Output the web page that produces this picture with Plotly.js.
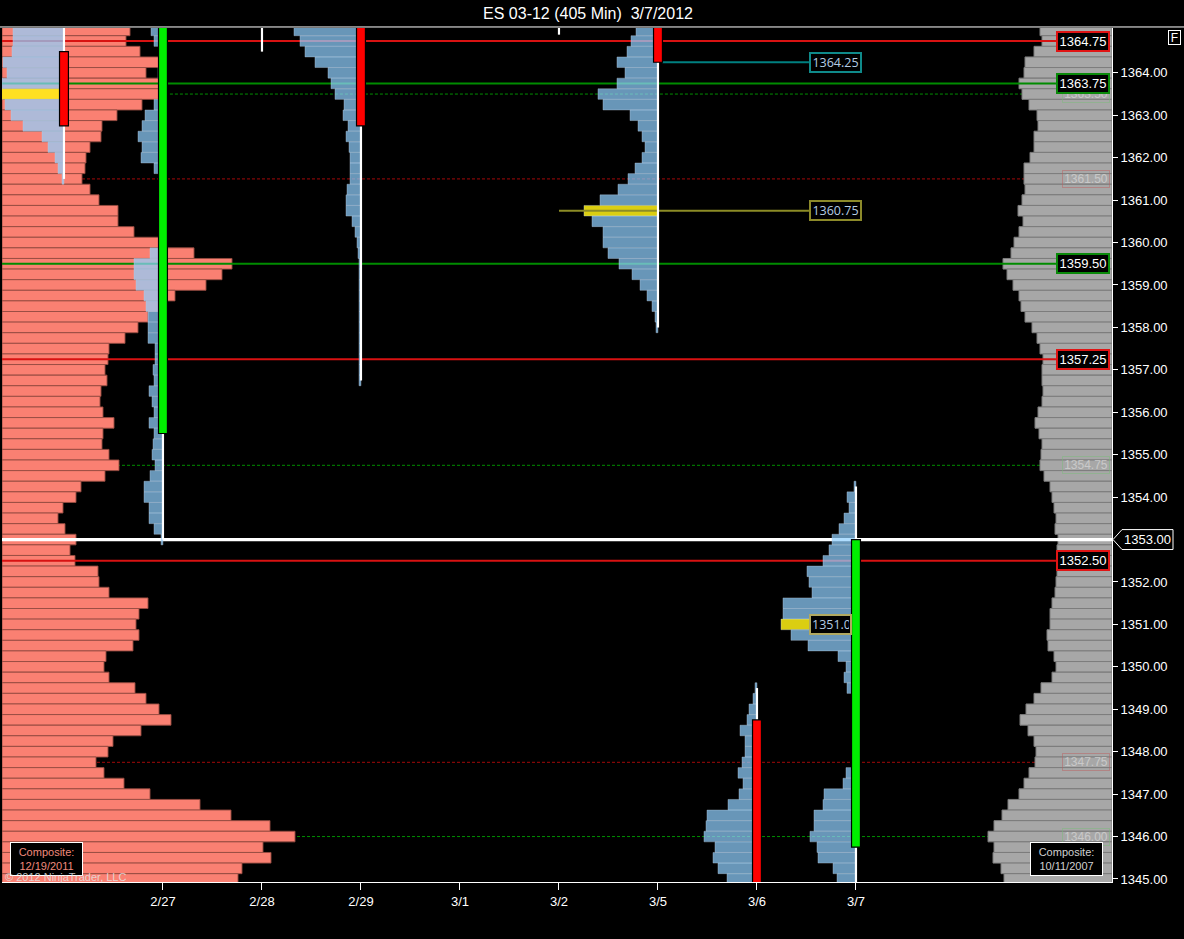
<!DOCTYPE html>
<html><head><meta charset="utf-8">
<script src="https://cdn.plot.ly/plotly-3.0.1.min.js"></script>
<style>html,body{margin:0;padding:0;background:#000;}#chart{width:1184px;height:939px;}</style>
</head><body><div id="chart"></div>
<script>
// ================= DATA =================
const dayLabels = ['2/27','2/28','2/29','3/1','3/2','3/5','3/6','3/7'];
const dayIndex  = [0,1,2,3,4,5,6,7];
const priceTicks = [1345,1346,1347,1348,1349,1350,1351,1352,1354,1355,1356,1357,1358,1359,1360,1361,1362,1363,1364];
const tickSize = 0.25;

// Composite profile 12/19/2011 (left, salmon) : volumes from 1365.00 down to 1345.00
const compLeftTop = 1365.00;
const compLeftVol = [128,124,138,157,144,157,157,140,115,100,
  99,88,84,83,80,88,97,116,116,132,
  158,192,230,220,204,173,160,146,136,123,
  107,106,103,105,99,98,101,112,101,100,
  107,117,103,79,74,61,56,63,74,68,
  73,96,97,107,146,137,134,137,131,104,
  102,107,133,144,157,169,139,111,106,94,
  102,122,148,198,229,268,293,261,269,240,236];

// Composite profile 10/11/2007 (right, gray) : volumes from 1365.00 down to 1345.00
const compRightTop = 1365.00;
const compRightVol = [72,70,78,87,88,93,90,83,75,74,
  78,78,82,88,88,87,90,94,89,93,
  98,101,109,105,99,93,91,87,80,75,
  72,69,70,70,69,70,74,77,73,70,
  71,72,68,62,60,58,56,57,54,55,
  55,55,56,57,60,62,62,65,64,58,
  56,60,71,78,86,92,84,78,76,77,
  83,88,93,104,110,118,124,118,119,111,108];

// Session profiles (volume per 0.25 level, from top price downward)
const prof0224Day = -1, prof0224Top = 1365.00, prof0224Poc = 1363.50;
const prof0224Vol = [51,51,52,61,57,62,70,59,53,41,22,16,9,6,2];

const prof0227Day = 0, prof0227Top = 1365.00;
const prof0227Vol = [12,9,2,3,5,3,3,9,18,21,
  25,21,22,9,1,1,1,1,1,1,
  2,13,29,29,27,19,17,15,15,15,
  8,8,10,9,14,11,9,14,9,10,
  11,8,13,19,19,14,14,9,2];

const prof0229Day = 2, prof0229Top = 1365.00;
const prof0229Vol = [67,61,56,46,33,30,26,17,18,13,
  15,12,11,11,11,14,15,15,9,6,
  4,3,2,2,2,2,2,2,2,2,2,2,2,2];

const prof0305Day = 5, prof0305Top = 1365.00, prof0305Poc = 1360.75;
const prof0305Vol = [22,27,31,41,33,41,60,55,28,20,
  16,13,16,23,30,40,58,74,66,55,
  55,50,39,26,18,11,6,3,2];

const prof0306Day = 6, prof0306Top = 1349.50;
const prof0306Vol = [2,4,8,10,17,12,12,15,19,14,18,29,50,51,53,42,44,39,30];

const prof0307Day = 7, prof0307Top = 1354.25, prof0307Poc = 1351.00;
const prof0307Vol = [2,9,7,12,17,24,27,33,49,47,
  44,73,73,75,65,48,18,10,12,9,
  2,3,3,2,4,4,3,10,13,32,
  33,42,42,46,39,38,23,19];

// Candles (session bars)
const candleDay   = [-1, 0, 1, 2, 4, 5, 6, 7];
const candleOpen  = [1364.50, 1355.50, 1365.75, 1365.25, 1365.50, 1365.25, 1348.75, 1345.75];
const candleHigh  = [1365.50, 1366.00, 1366.25, 1365.50, 1366.00, 1365.50, 1349.50, 1354.25];
const candleLow   = [1361.50, 1353.00, 1364.50, 1356.75, 1364.90, 1358.00, 1344.50, 1344.50];
const candleClose = [1362.75, 1365.25, 1365.50, 1362.75, 1365.25, 1364.25, 1344.75, 1353.00];

// Levels
const solidLevels = [1364.75, 1363.75, 1359.50, 1357.25, 1352.50];
const solidKinds  = ['red','green','green','red','red'];
const lastPrice = 1353.00;
const dottedLevels = [1363.50, 1361.50, 1354.75, 1347.75, 1346.00];
const dottedKinds  = ['green','red','green','red','green'];
const dottedStartDay = [0, null, null, null, null];
const nakedCloseLevel = 1364.25, nakedCloseDay = 5;
const nakedPocLevel = 1360.75, nakedPocFromDay = 4;

// ================= STYLE / GEOMETRY =================
const X_MIN = -1.626, X_MAX = 9.586;
const Y_MIN = 1344.929, Y_MAX = 1365.057;
const VOL_SCALE = 1/99;
const LABEL_X = 9.02;
const POC_LABEL_X = 6.525;
const BODY_W = 0.09, WICK_W = 0.022;
const LINE_T = 0.05, WHITE_T = 0.075;
const FONT = 'Liberation Sans, Arial, sans-serif';
const C = {
  salmon:'#fa8072', salmonLine:'rgba(150,75,65,0.9)',
  gray:'#a7a7a7', grayLine:'#7c7c7c',
  blue:'rgba(144,208,255,0.72)', blueLine:'rgba(190,210,230,0.45)',
  poc:'rgba(255,240,20,0.86)',
  red:'#d81212', green:'#008c00', white:'#ffffff',
  redDot:'rgba(170,10,10,0.95)', greenDot:'rgba(0,150,0,0.95)',
  teal:'#008080', olive:'#8c8c26'
};

function levels(top, n){ const a=[]; for(let i=0;i<n;i++) a.push(+(top - i*tickSize).toFixed(2)); return a; }

const traces = [];
// left composite
traces.push({type:'bar', orientation:'h', y:levels(compLeftTop, compLeftVol.length),
  x:compLeftVol.map(v=>v*VOL_SCALE), base:X_MIN, width:tickSize,
  marker:{color:C.salmon, line:{color:C.salmonLine, width:1}}, hoverinfo:'skip'});
// right composite
traces.push({type:'bar', orientation:'h', y:levels(compRightTop, compRightVol.length),
  x:compRightVol.map(v=>-v*VOL_SCALE), base:X_MAX, width:tickSize,
  marker:{color:C.gray, line:{color:C.grayLine, width:1}}, hoverinfo:'skip'});
// solid level lines (thin bars) + last price line
{
  const y=[], x=[], base=[], w=[], col=[];
  solidLevels.forEach((p,i)=>{ y.push(p); base.push(X_MIN); x.push(LABEL_X-X_MIN); w.push(LINE_T); col.push(solidKinds[i]==='red'?C.red:C.green); });
  y.push(lastPrice); base.push(X_MIN); x.push(X_MAX-X_MIN); w.push(WHITE_T); col.push(C.white);
  traces.push({type:'bar', orientation:'h', y, x, base, width:w, marker:{color:col, line:{width:0}}, hoverinfo:'skip'});
}
// session profiles
function profile(day, top, vols, poc){
  const y = levels(top, vols.length);
  return {type:'bar', orientation:'h', y, x:vols.map(v=>-v*VOL_SCALE), base:day, width:tickSize,
    marker:{color:y.map(p=>p===poc?C.poc:C.blue), line:{color:C.blueLine, width:0.8}}, hoverinfo:'skip'};
}
traces.push(profile(prof0224Day, prof0224Top, prof0224Vol, prof0224Poc));
traces.push(profile(prof0227Day, prof0227Top, prof0227Vol, null));
traces.push(profile(prof0229Day, prof0229Top, prof0229Vol, null));
traces.push(profile(prof0305Day, prof0305Top, prof0305Vol, prof0305Poc));
traces.push(profile(prof0306Day, prof0306Top, prof0306Vol, null));
traces.push(profile(prof0307Day, prof0307Top, prof0307Vol, prof0307Poc));
// naked close / POC lines
traces.push({type:'bar', orientation:'h', y:[nakedCloseLevel, nakedPocLevel],
  base:[nakedCloseDay+BODY_W/2, nakedPocFromDay], x:[POC_LABEL_X-nakedCloseDay-BODY_W/2, POC_LABEL_X-nakedPocFromDay],
  width:[LINE_T, LINE_T], marker:{color:[C.teal, C.olive], line:{width:0}}, hoverinfo:'skip'});
// candle wicks
traces.push({type:'bar', orientation:'h', y:candleHigh.map((h,i)=>(h+candleLow[i])/2),
  width:candleHigh.map((h,i)=>h-candleLow[i]), base:candleDay.map(d=>d-WICK_W/2), x:candleDay.map(()=>WICK_W),
  marker:{color:C.white, line:{width:0}}, hoverinfo:'skip'});
// candle bodies
traces.push({type:'bar', orientation:'h', y:candleOpen.map((o,i)=>(o+candleClose[i])/2),
  width:candleOpen.map((o,i)=>Math.abs(candleClose[i]-o)), base:candleDay.map(d=>d-BODY_W/2), x:candleDay.map(()=>BODY_W),
  marker:{color:candleOpen.map((o,i)=>candleClose[i]>=o?'#00ee00':'#ff0000'), line:{color:'#000', width:1.2}}, hoverinfo:'skip'});

// ================= SHAPES & ANNOTATIONS =================
const shapes = [];
dottedLevels.forEach((p,i)=>{
  shapes.push({type:'line', layer:'below', xref:'x', yref:'y', x0: dottedStartDay[i]===null?X_MIN:dottedStartDay[i]+0.07, x1:X_MAX, y0:p, y1:p,
    line:{color:dottedKinds[i]==='red'?C.redDot:C.greenDot, width:1, dash:'3px,2px'}});
});
// top border
shapes.push({type:'line', xref:'paper', yref:'paper', x0:-0.01, x1:1.07, y0:1.0012, y1:1.0012, line:{color:'#fff', width:1}});
// last price tag (arrow box)
const px = v => (v-2)/1110;
const dy = 0.235;
shapes.push({type:'path', xref:'paper', yref:'y',
  path:`M ${px(1113)} ${lastPrice} L ${px(1122)} ${lastPrice+dy} L ${px(1173)} ${lastPrice+dy} L ${px(1173)} ${lastPrice-dy} L ${px(1122)} ${lastPrice-dy} Z`,
  fillcolor:'#000', line:{color:'#fff', width:1}});

const ann = [];
const faintBorder = {red:'rgba(190,90,90,0.45)', green:'rgba(120,190,120,0.45)'};
dottedLevels.forEach((p,i)=>{
  ann.push({xref:'paper', x:px(1110), xanchor:'right', yref:'y', y:p, text:p.toFixed(2), showarrow:false,
    font:{family:FONT, size:12, color:'rgba(225,225,225,0.6)'}, bgcolor:'rgba(0,0,0,0)',
    bordercolor:faintBorder[dottedKinds[i]], borderwidth:1, borderpad:1, width:44, height:14});
});
solidLevels.forEach((p,i)=>{
  ann.push({xref:'paper', x:px(1110), xanchor:'right', yref:'y', y:p, text:p.toFixed(2), showarrow:false,
    font:{family:FONT, size:13, color:'#fff'}, bgcolor:'#000',
    bordercolor:solidKinds[i]==='red'?'#e01414':'#0a8a0a', borderwidth:2, borderpad:1, width:48, height:15});
});
ann.push({xref:'paper', x:px(1148), xanchor:'center', yref:'y', y:lastPrice, text:lastPrice.toFixed(2), showarrow:false,
  font:{family:FONT, size:13, color:'#fff'}});
// naked level labels
ann.push({xref:'x', x:POC_LABEL_X, xanchor:'left', yref:'y', y:nakedCloseLevel, text:nakedCloseLevel.toFixed(2), showarrow:false,
  font:{family:'Open Sans, sans-serif', size:12.5, color:'#b4cce4'}, bgcolor:'#000', bordercolor:'#0f8a8a', borderwidth:2, borderpad:1, width:47, height:15, align:'center'});
ann.push({xref:'x', x:POC_LABEL_X, xanchor:'left', yref:'y', y:nakedPocLevel, text:nakedPocLevel.toFixed(2), showarrow:false,
  font:{family:'Open Sans, sans-serif', size:12.5, color:'#b4cce4'}, bgcolor:'#000', bordercolor:'#8c8a2a', borderwidth:2, borderpad:1, width:47, height:15, align:'center'});
ann.push({xref:'x', x:POC_LABEL_X, xanchor:'left', yref:'y', y:prof0307Poc, text:prof0307Poc.toFixed(2), showarrow:false,
  font:{family:'Open Sans, sans-serif', size:12.5, color:'#b4cce4'}, bgcolor:'#000', bordercolor:'#b0a860', borderwidth:2, borderpad:1, width:37, height:15, align:'left'});
// F box
ann.push({xref:'paper', x:px(1174.5), xanchor:'center', yref:'paper', y:(882-37.5)/854, yanchor:'middle', text:'F', showarrow:false,
  font:{family:FONT, size:12, color:'#fff'}, bgcolor:'#000', bordercolor:'#fff', borderwidth:1, borderpad:0, width:11, height:13});
// composite labels
ann.push({xref:'paper', x:px(46.5), xanchor:'center', yref:'paper', y:(882-859)/854, yanchor:'middle',
  text:'Composite:<br>12/19/2011', showarrow:false, font:{family:FONT, size:11, color:'#f08a7c'},
  bgcolor:'#000', bordercolor:'#fff', borderwidth:1, borderpad:2, width:67, height:28});
ann.push({xref:'paper', x:px(1066.5), xanchor:'center', yref:'paper', y:(882-858.5)/854, yanchor:'middle',
  text:'Composite:<br>10/11/2007', showarrow:false, font:{family:FONT, size:11, color:'#d0d0d0'},
  bgcolor:'#000', bordercolor:'#fff', borderwidth:1, borderpad:2, width:67, height:28});
ann.push({xref:'paper', x:px(3), xanchor:'left', yref:'paper', y:(882-877)/854, yanchor:'middle',
  text:'© 2012 NinjaTrader, LLC', showarrow:false, font:{family:FONT, size:11, color:'rgba(225,225,225,0.85)'}});

const layout = {
  width:1184, height:939, paper_bgcolor:'#000', plot_bgcolor:'#000',
  margin:{l:2, r:72, t:28, b:57}, showlegend:false, barmode:'overlay', hovermode:false,
  title:{text:'ES 03-12 (405 Min)\u00a0 3/7/2012', font:{family:FONT, size:16, color:'#fff'},
    xref:'container', x:588/1184, xanchor:'center', yref:'container', y:1-13/939, yanchor:'middle'},
  xaxis:{range:[X_MIN, X_MAX], tickvals:dayIndex, ticktext:dayLabels, showgrid:false, zeroline:false,
    showline:true, linecolor:'#fff', linewidth:1, ticks:'outside', ticklen:7, tickcolor:'#fff',
    tickfont:{family:FONT, size:13, color:'#fff'}, fixedrange:true},
  yaxis:{range:[Y_MIN, Y_MAX], side:'right', tickvals:priceTicks, ticktext:priceTicks.map(v=>v.toFixed(2)), showgrid:false, zeroline:false,
    showline:true, linecolor:'#fff', linewidth:1, ticks:'outside', ticklen:5, tickcolor:'#fff',
    tickfont:{family:FONT, size:13, color:'#fff'}, fixedrange:true},
  shapes, annotations:ann
};
Plotly.newPlot('chart', traces, layout, {staticPlot:true, displayModeBar:false});
</script></body></html>
